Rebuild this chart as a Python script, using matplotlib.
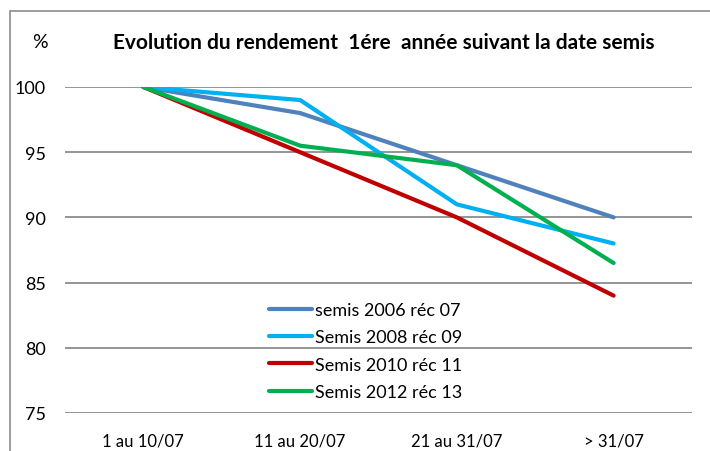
import matplotlib
matplotlib.use("Agg")
import matplotlib.pyplot as plt
from matplotlib.patches import Rectangle

categories = ["1 au 10/07", "11 au 20/07", "21 au 31/07", "> 31/07"]
semis_2006 = [100, 98, 94, 90]
semis_2008 = [100, 99, 91, 88]
semis_2010 = [100, 95, 90, 84]
semis_2012 = [100, 95.5, 94, 86.5]
series_names = ["semis 2006 réc 07", "Semis 2008 réc 09",
                "Semis 2010 réc 11", "Semis 2012 réc 13"]
colors = ["#4F81BD", "#00B0F0", "#C00000", "#00B050"]

plt.rcParams['font.family'] = ['Lato', 'DejaVu Sans']

fig = plt.figure(figsize=(7.1, 4.52), dpi=100)
ax = fig.add_axes([65 / 710, 1 - 414 / 452, 627 / 710, 326 / 452])

x = range(len(categories))
for vals, name, c in zip([semis_2006, semis_2008, semis_2010, semis_2012],
                         series_names, colors):
    ax.plot(x, vals, color=c, lw=3, label=name, solid_capstyle='round')

ax.set_xlim(-0.5, 3.5)
ax.set_ylim(75, 100)
ax.set_yticks([75, 80, 85, 90, 95, 100])
ax.set_xticks(list(x))
ax.set_xticklabels(categories)
ax.yaxis.grid(True, color="#8c8c8c", lw=1.3)
ax.set_axisbelow(True)
for s in ax.spines.values():
    s.set_visible(False)
ax.tick_params(length=0, labelsize=12, colors="black")
ax.tick_params(axis='y', pad=14, labelsize=13)
ax.tick_params(axis='x', pad=14)

ax.legend(loc='upper left', bbox_to_anchor=(260 / 710, 1 - 294 / 452),
          bbox_transform=fig.transFigure, frameon=False, fontsize=13,
          handlelength=2.4, handletextpad=0.15, labelspacing=0.63,
          borderpad=0)

fig.text(384 / 710, 1 - 43 / 452,
         "Evolution du rendement  1ére  année suivant la date semis",
         ha='center', va='center', fontsize=15, fontweight='bold')
fig.text(40 / 710, 1 - 43 / 452, "%", ha='center', va='center', fontsize=14)

# chart border (only left and top visible in the crop)
fig.patches.append(Rectangle((10 / 710, -0.1), 1.1, 1 - 12 / 452 + 0.1,
                             transform=fig.transFigure, fill=False,
                             edgecolor="#8c8c8c", lw=1.2))

fig.savefig("out.png", dpi=100)
